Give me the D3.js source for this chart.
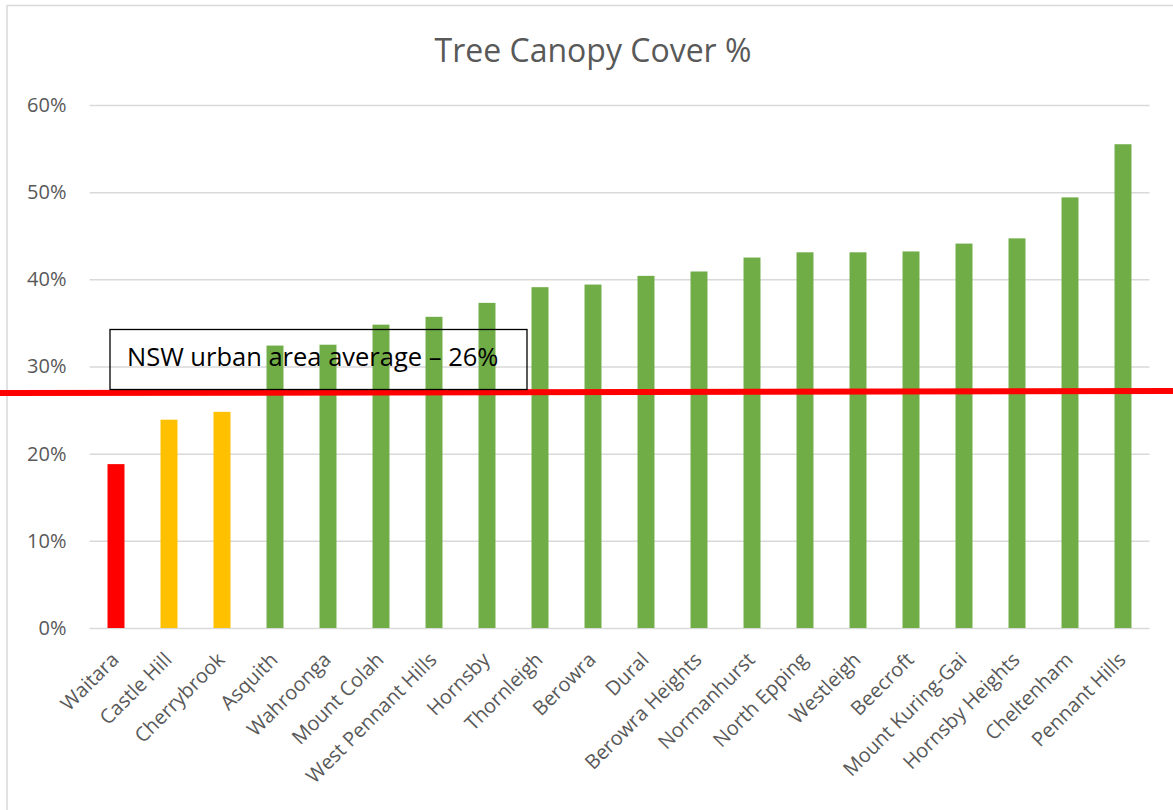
<!DOCTYPE html>
<html>
<head>
<meta charset="utf-8">
<script src="https://cdn.jsdelivr.net/npm/d3@7"></script>
<style>
  html, body { margin: 0; padding: 0; background: #fff; }
  svg { display: block; }
  text { font-family: "Open Sans", "Noto Sans", sans-serif; }
</style>
</head>
<body>
<svg id="chart" width="1173" height="810"></svg>
<script>
// ---- data ----
const suburbs = ["Waitara","Castle Hill","Cherrybrook","Asquith","Wahroonga","Mount Colah",
  "West Pennant Hills","Hornsby","Thornleigh","Berowra","Dural","Berowra Heights","Normanhurst",
  "North Epping","Westleigh","Beecroft","Mount Kuring-Gai","Hornsby Heights","Cheltenham","Pennant Hills"];
const canopy = [0.188,0.239,0.248,0.324,0.325,0.348,0.357,0.373,0.391,0.394,0.404,0.409,0.425,
  0.431,0.431,0.432,0.441,0.447,0.494,0.555];
const ratings = ["low","mid","mid","high","high","high","high","high","high","high","high","high","high",
  "high","high","high","high","high","high","high"];
const yTicks = [0,0.1,0.2,0.3,0.4,0.5,0.6];
const averageLine = [0.2695, 0.2718]; // drawn red line (left end, right end)
const titleText = "Tree Canopy Cover %";
const annotationText = "NSW urban area average \u2013 26%";

// ---- layout ----
const svg = d3.select("#chart");
const W = 1173, H = 810;
const plot = {left: 89.5, right: 1149.5, top: 105, bottom: 628};
const colors = {low: "#FF0000", mid: "#FFC000", high: "#70AD47"};

const x = d3.scaleBand().domain(suburbs).range([plot.left, plot.right])
  .paddingInner(0.68).paddingOuter(0.34);
const y = d3.scaleLinear().domain([0, 0.6]).range([plot.bottom, plot.top]);

// outer border (only top & left visible in reference)
svg.append("path")
  .attr("d", `M7,${H} L7,5.5 L${W},5.5`)
  .attr("fill", "none").attr("stroke", "#d9d9d9").attr("stroke-width", 1.5);

// title
svg.append("text")
  .attr("x", 593).attr("y", 62)
  .attr("text-anchor", "middle")
  .attr("font-size", 32).attr("fill", "#595959")
  .text(titleText);

// gridlines + y labels
const yAxis = d3.axisLeft(y).tickValues(yTicks).tickFormat(d3.format(".0%"))
  .tickSize(-(plot.right - plot.left)).tickPadding(23);
const gy = svg.append("g").attr("transform", `translate(${plot.left},0)`).call(yAxis);
gy.select(".domain").remove();
gy.selectAll(".tick line").attr("stroke", "#d9d9d9").attr("stroke-width", 1.5);
gy.selectAll(".tick text").attr("font-size", 20).attr("fill", "#595959")
  .attr("font-family", "'Open Sans', sans-serif");

// bars
svg.append("g").selectAll("rect")
  .data(suburbs)
  .join("rect")
  .attr("x", d => x(d))
  .attr("width", x.bandwidth())
  .attr("y", (d, i) => y(canopy[i]))
  .attr("height", (d, i) => y(0) - y(canopy[i]))
  .attr("fill", (d, i) => colors[ratings[i]]);

// x axis labels
const xAxis = d3.axisBottom(x).tickSize(0).tickPadding(0);
const gx = svg.append("g").attr("transform", `translate(0,${plot.bottom})`).call(xAxis);
gx.select(".domain").remove();
gx.selectAll(".tick text")
  .attr("font-size", 20).attr("fill", "#595959")
  .attr("font-family", "'Open Sans', sans-serif")
  .attr("text-anchor", "end")
  .attr("dy", null)
  .attr("transform", "translate(4,33) rotate(-45)");

// average line
svg.append("line")
  .attr("x1", 0).attr("x2", W)
  .attr("y1", y(averageLine[0])).attr("y2", y(averageLine[1]))
  .attr("stroke", "#FF0000").attr("stroke-width", 6);

// annotation box
svg.append("rect")
  .attr("x", 110).attr("y", 329.5).attr("width", 417).attr("height", 60)
  .attr("fill", "none").attr("stroke", "#000").attr("stroke-width", 1.3);
svg.append("text")
  .attr("x", 127).attr("y", 366)
  .attr("font-size", 25.5).attr("fill", "#000")
  .text(annotationText);
</script>
</body>
</html>
